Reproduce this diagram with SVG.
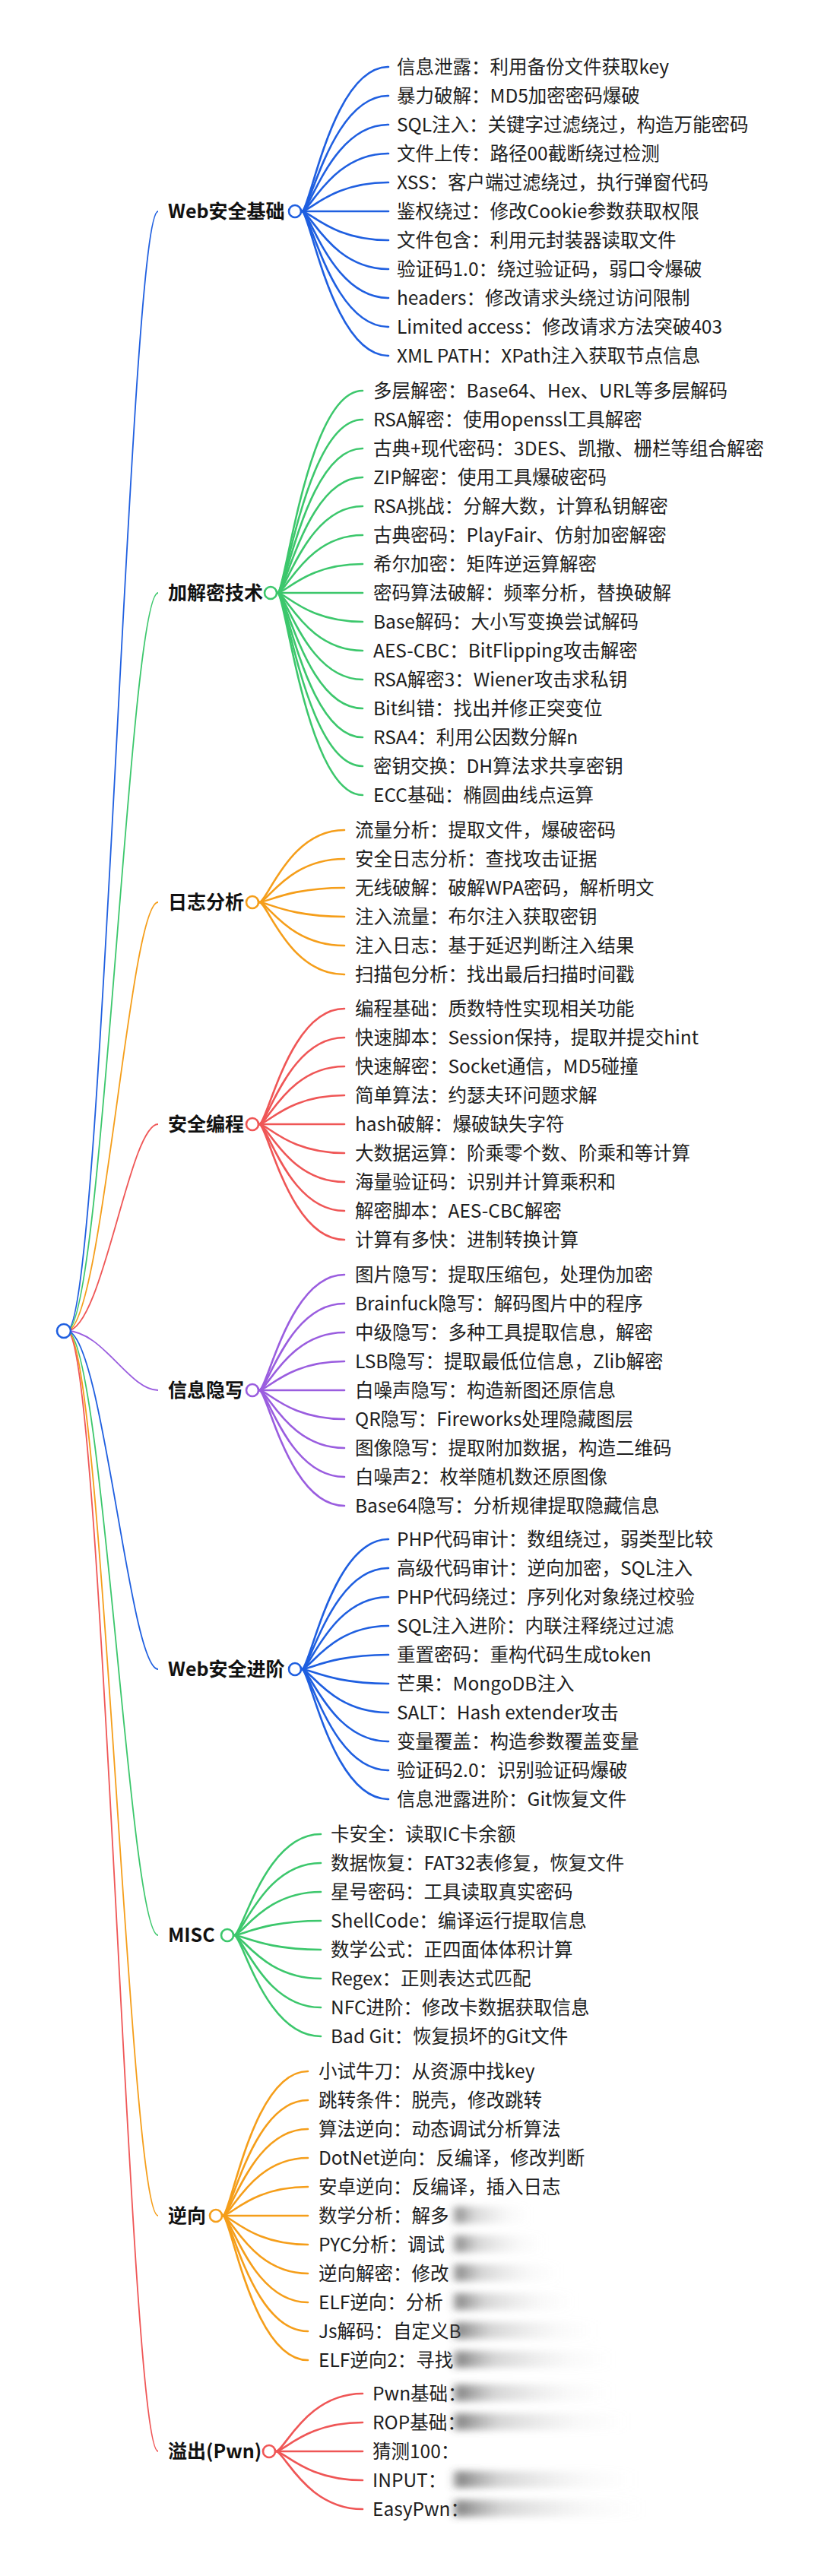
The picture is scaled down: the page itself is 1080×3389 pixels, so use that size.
<svg xmlns="http://www.w3.org/2000/svg" width="1080" height="3389" viewBox="0 0 1080 3389">
<defs>
<style>
.t{font-family:"Noto Sans CJK SC","Noto Sans",sans-serif;font-size:24.5px;fill:#1e1e1e}
.b{font-family:"Noto Sans CJK SC","Noto Sans",sans-serif;font-size:25px;font-weight:bold;fill:#111}
.l{fill:none;stroke-width:2.6;stroke-linecap:round}
.r{fill:none;stroke-width:1.8}
.blue{stroke:#1f5fe0}
.green{stroke:#3cc76c}
.orange{stroke:#f59e1a}
.red{stroke:#ef5656}
.purple{stroke:#9a5ddf}
.hub{fill:#fff;stroke-width:2.6}
</style>
<linearGradient id="smear" x1="0" y1="0" x2="1" y2="0">
<stop offset="0" stop-color="#444" stop-opacity="0.7"/>
<stop offset="0.25" stop-color="#888" stop-opacity="0.35"/>
<stop offset="0.7" stop-color="#bbb" stop-opacity="0.1"/>
<stop offset="1" stop-color="#ddd" stop-opacity="0"/>
</linearGradient>
<filter id="blur" x="-20%" y="-50%" width="140%" height="200%"><feGaussianBlur stdDeviation="6 5"/></filter>
</defs>
<rect width="1080" height="3389" fill="#fff"/>
<g id="connectors">
<g class="r">
<path class="blue" d="M88 1751C135 1751 170 278 208 278"/>
<path class="green" d="M88 1751C135 1751 170 780 208 780"/>
<path class="orange" d="M88 1751C135 1751 170 1187 208 1187"/>
<path class="red" d="M88 1751C135 1751 170 1479 208 1479"/>
<path class="purple" d="M88 1751C135 1751 170 1829 208 1829"/>
<path class="blue" d="M88 1751C135 1751 170 2196 208 2196"/>
<path class="green" d="M88 1751C135 1751 170 2546 208 2546"/>
<path class="orange" d="M88 1751C135 1751 170 2915 208 2915"/>
<path class="red" d="M88 1751C135 1751 170 3225 208 3225"/>
</g>
<g class="l blue">
<path d="M397 278C408 278 437 88 511 88"/>
<path d="M397 278C408 278 437 126 511 126"/>
<path d="M397 278C408 278 437 164 511 164"/>
<path d="M397 278C408 278 437 202 511 202"/>
<path d="M397 278C408 278 437 240 511 240"/>
<path d="M397 278C408 278 437 278 511 278"/>
<path d="M397 278C408 278 437 316 511 316"/>
<path d="M397 278C408 278 437 354 511 354"/>
<path d="M397 278C408 278 437 392 511 392"/>
<path d="M397 278C408 278 437 430 511 430"/>
<path d="M397 278C408 278 437 468 511 468"/>
</g>
<g class="l green">
<path d="M365 780C376 780 404 514 477 514"/>
<path d="M365 780C376 780 404 552 477 552"/>
<path d="M365 780C376 780 404 590 477 590"/>
<path d="M365 780C376 780 404 628 477 628"/>
<path d="M365 780C376 780 404 666 477 666"/>
<path d="M365 780C376 780 404 704 477 704"/>
<path d="M365 780C376 780 404 742 477 742"/>
<path d="M365 780C376 780 404 780 477 780"/>
<path d="M365 780C376 780 404 818 477 818"/>
<path d="M365 780C376 780 404 856 477 856"/>
<path d="M365 780C376 780 404 894 477 894"/>
<path d="M365 780C376 780 404 932 477 932"/>
<path d="M365 780C376 780 404 970 477 970"/>
<path d="M365 780C376 780 404 1008 477 1008"/>
<path d="M365 780C376 780 404 1046 477 1046"/>
</g>
<g class="l orange">
<path d="M341 1187C352 1187 380 1092 453 1092"/>
<path d="M341 1187C352 1187 380 1130 453 1130"/>
<path d="M341 1187C352 1187 380 1168 453 1168"/>
<path d="M341 1187C352 1187 380 1206 453 1206"/>
<path d="M341 1187C352 1187 380 1244 453 1244"/>
<path d="M341 1187C352 1187 380 1282 453 1282"/>
</g>
<g class="l red">
<path d="M341 1479C352 1479 380 1327 453 1327"/>
<path d="M341 1479C352 1479 380 1365 453 1365"/>
<path d="M341 1479C352 1479 380 1403 453 1403"/>
<path d="M341 1479C352 1479 380 1441 453 1441"/>
<path d="M341 1479C352 1479 380 1479 453 1479"/>
<path d="M341 1479C352 1479 380 1517 453 1517"/>
<path d="M341 1479C352 1479 380 1555 453 1555"/>
<path d="M341 1479C352 1479 380 1593 453 1593"/>
<path d="M341 1479C352 1479 380 1631 453 1631"/>
</g>
<g class="l purple">
<path d="M341 1829C352 1829 380 1677 453 1677"/>
<path d="M341 1829C352 1829 380 1715 453 1715"/>
<path d="M341 1829C352 1829 380 1753 453 1753"/>
<path d="M341 1829C352 1829 380 1791 453 1791"/>
<path d="M341 1829C352 1829 380 1829 453 1829"/>
<path d="M341 1829C352 1829 380 1867 453 1867"/>
<path d="M341 1829C352 1829 380 1905 453 1905"/>
<path d="M341 1829C352 1829 380 1943 453 1943"/>
<path d="M341 1829C352 1829 380 1981 453 1981"/>
</g>
<g class="l blue">
<path d="M397 2196C408 2196 437 2025 511 2025"/>
<path d="M397 2196C408 2196 437 2063 511 2063"/>
<path d="M397 2196C408 2196 437 2101 511 2101"/>
<path d="M397 2196C408 2196 437 2139 511 2139"/>
<path d="M397 2196C408 2196 437 2177 511 2177"/>
<path d="M397 2196C408 2196 437 2215 511 2215"/>
<path d="M397 2196C408 2196 437 2253 511 2253"/>
<path d="M397 2196C408 2196 437 2291 511 2291"/>
<path d="M397 2196C408 2196 437 2329 511 2329"/>
<path d="M397 2196C408 2196 437 2367 511 2367"/>
</g>
<g class="l green">
<path d="M308 2546C319 2546 348 2413 422 2413"/>
<path d="M308 2546C319 2546 348 2451 422 2451"/>
<path d="M308 2546C319 2546 348 2489 422 2489"/>
<path d="M308 2546C319 2546 348 2527 422 2527"/>
<path d="M308 2546C319 2546 348 2565 422 2565"/>
<path d="M308 2546C319 2546 348 2603 422 2603"/>
<path d="M308 2546C319 2546 348 2641 422 2641"/>
<path d="M308 2546C319 2546 348 2679 422 2679"/>
</g>
<g class="l orange">
<path d="M293 2915C304 2915 332 2725 405 2725"/>
<path d="M293 2915C304 2915 332 2763 405 2763"/>
<path d="M293 2915C304 2915 332 2801 405 2801"/>
<path d="M293 2915C304 2915 332 2839 405 2839"/>
<path d="M293 2915C304 2915 332 2877 405 2877"/>
<path d="M293 2915C304 2915 332 2915 405 2915"/>
<path d="M293 2915C304 2915 332 2953 405 2953"/>
<path d="M293 2915C304 2915 332 2991 405 2991"/>
<path d="M293 2915C304 2915 332 3029 405 3029"/>
<path d="M293 2915C304 2915 332 3067 405 3067"/>
<path d="M293 2915C304 2915 332 3105 405 3105"/>
</g>
<g class="l red">
<path d="M363 3225C374 3225 403 3149 477 3149"/>
<path d="M363 3225C374 3225 403 3187 477 3187"/>
<path d="M363 3225C374 3225 403 3225 477 3225"/>
<path d="M363 3225C374 3225 403 3263 477 3263"/>
<path d="M363 3225C374 3225 403 3301 477 3301"/>
</g>
</g>
<g id="root"><circle class="hub blue" cx="84" cy="1751" r="9"/></g>
<g id="b1"><text class="b" x="221" y="287">Web安全基础</text><circle class="hub blue" cx="388" cy="278" r="8"/></g>
<g id="b1-children">
<g id="b1-1"><text class="t" x="522" y="97">信息泄露：利用备份文件获取key</text></g>
<g id="b1-2"><text class="t" x="522" y="135">暴力破解：MD5加密密码爆破</text></g>
<g id="b1-3"><text class="t" x="522" y="173">SQL注入：关键字过滤绕过，构造万能密码</text></g>
<g id="b1-4"><text class="t" x="522" y="211">文件上传：路径00截断绕过检测</text></g>
<g id="b1-5"><text class="t" x="522" y="249">XSS：客户端过滤绕过，执行弹窗代码</text></g>
<g id="b1-6"><text class="t" x="522" y="287">鉴权绕过：修改Cookie参数获取权限</text></g>
<g id="b1-7"><text class="t" x="522" y="325">文件包含：利用元封装器读取文件</text></g>
<g id="b1-8"><text class="t" x="522" y="363">验证码1.0：绕过验证码，弱口令爆破</text></g>
<g id="b1-9"><text class="t" x="522" y="401">headers：修改请求头绕过访问限制</text></g>
<g id="b1-10"><text class="t" x="522" y="439">Limited access：修改请求方法突破403</text></g>
<g id="b1-11"><text class="t" x="522" y="477">XML PATH：XPath注入获取节点信息</text></g>
</g>
<g id="b2"><text class="b" x="221" y="789">加解密技术</text><circle class="hub green" cx="356" cy="780" r="8"/></g>
<g id="b2-children">
<g id="b2-1"><text class="t" x="491" y="523">多层解密：Base64、Hex、URL等多层解码</text></g>
<g id="b2-2"><text class="t" x="491" y="561">RSA解密：使用openssl工具解密</text></g>
<g id="b2-3"><text class="t" x="491" y="599">古典+现代密码：3DES、凯撒、栅栏等组合解密</text></g>
<g id="b2-4"><text class="t" x="491" y="637">ZIP解密：使用工具爆破密码</text></g>
<g id="b2-5"><text class="t" x="491" y="675">RSA挑战：分解大数，计算私钥解密</text></g>
<g id="b2-6"><text class="t" x="491" y="713">古典密码：PlayFair、仿射加密解密</text></g>
<g id="b2-7"><text class="t" x="491" y="751">希尔加密：矩阵逆运算解密</text></g>
<g id="b2-8"><text class="t" x="491" y="789">密码算法破解：频率分析，替换破解</text></g>
<g id="b2-9"><text class="t" x="491" y="827">Base解码：大小写变换尝试解码</text></g>
<g id="b2-10"><text class="t" x="491" y="865">AES-CBC：BitFlipping攻击解密</text></g>
<g id="b2-11"><text class="t" x="491" y="903">RSA解密3：Wiener攻击求私钥</text></g>
<g id="b2-12"><text class="t" x="491" y="941">Bit纠错：找出并修正突变位</text></g>
<g id="b2-13"><text class="t" x="491" y="979">RSA4：利用公因数分解n</text></g>
<g id="b2-14"><text class="t" x="491" y="1017">密钥交换：DH算法求共享密钥</text></g>
<g id="b2-15"><text class="t" x="491" y="1055">ECC基础：椭圆曲线点运算</text></g>
</g>
<g id="b3"><text class="b" x="221" y="1196">日志分析</text><circle class="hub orange" cx="332" cy="1187" r="8"/></g>
<g id="b3-children">
<g id="b3-1"><text class="t" x="467" y="1101">流量分析：提取文件，爆破密码</text></g>
<g id="b3-2"><text class="t" x="467" y="1139">安全日志分析：查找攻击证据</text></g>
<g id="b3-3"><text class="t" x="467" y="1177">无线破解：破解WPA密码，解析明文</text></g>
<g id="b3-4"><text class="t" x="467" y="1215">注入流量：布尔注入获取密钥</text></g>
<g id="b3-5"><text class="t" x="467" y="1253">注入日志：基于延迟判断注入结果</text></g>
<g id="b3-6"><text class="t" x="467" y="1291">扫描包分析：找出最后扫描时间戳</text></g>
</g>
<g id="b4"><text class="b" x="221" y="1488">安全编程</text><circle class="hub red" cx="332" cy="1479" r="8"/></g>
<g id="b4-children">
<g id="b4-1"><text class="t" x="467" y="1336">编程基础：质数特性实现相关功能</text></g>
<g id="b4-2"><text class="t" x="467" y="1374">快速脚本：Session保持，提取并提交hint</text></g>
<g id="b4-3"><text class="t" x="467" y="1412">快速解密：Socket通信，MD5碰撞</text></g>
<g id="b4-4"><text class="t" x="467" y="1450">简单算法：约瑟夫环问题求解</text></g>
<g id="b4-5"><text class="t" x="467" y="1488">hash破解：爆破缺失字符</text></g>
<g id="b4-6"><text class="t" x="467" y="1526">大数据运算：阶乘零个数、阶乘和等计算</text></g>
<g id="b4-7"><text class="t" x="467" y="1564">海量验证码：识别并计算乘积和</text></g>
<g id="b4-8"><text class="t" x="467" y="1602">解密脚本：AES-CBC解密</text></g>
<g id="b4-9"><text class="t" x="467" y="1640">计算有多快：进制转换计算</text></g>
</g>
<g id="b5"><text class="b" x="221" y="1838">信息隐写</text><circle class="hub purple" cx="332" cy="1829" r="8"/></g>
<g id="b5-children">
<g id="b5-1"><text class="t" x="467" y="1686">图片隐写：提取压缩包，处理伪加密</text></g>
<g id="b5-2"><text class="t" x="467" y="1724">Brainfuck隐写：解码图片中的程序</text></g>
<g id="b5-3"><text class="t" x="467" y="1762">中级隐写：多种工具提取信息，解密</text></g>
<g id="b5-4"><text class="t" x="467" y="1800">LSB隐写：提取最低位信息，Zlib解密</text></g>
<g id="b5-5"><text class="t" x="467" y="1838">白噪声隐写：构造新图还原信息</text></g>
<g id="b5-6"><text class="t" x="467" y="1876">QR隐写：Fireworks处理隐藏图层</text></g>
<g id="b5-7"><text class="t" x="467" y="1914">图像隐写：提取附加数据，构造二维码</text></g>
<g id="b5-8"><text class="t" x="467" y="1952">白噪声2：枚举随机数还原图像</text></g>
<g id="b5-9"><text class="t" x="467" y="1990">Base64隐写：分析规律提取隐藏信息</text></g>
</g>
<g id="b6"><text class="b" x="221" y="2205">Web安全进阶</text><circle class="hub blue" cx="388" cy="2196" r="8"/></g>
<g id="b6-children">
<g id="b6-1"><text class="t" x="522" y="2034">PHP代码审计：数组绕过，弱类型比较</text></g>
<g id="b6-2"><text class="t" x="522" y="2072">高级代码审计：逆向加密，SQL注入</text></g>
<g id="b6-3"><text class="t" x="522" y="2110">PHP代码绕过：序列化对象绕过校验</text></g>
<g id="b6-4"><text class="t" x="522" y="2148">SQL注入进阶：内联注释绕过过滤</text></g>
<g id="b6-5"><text class="t" x="522" y="2186">重置密码：重构代码生成token</text></g>
<g id="b6-6"><text class="t" x="522" y="2224">芒果：MongoDB注入</text></g>
<g id="b6-7"><text class="t" x="522" y="2262">SALT：Hash extender攻击</text></g>
<g id="b6-8"><text class="t" x="522" y="2300">变量覆盖：构造参数覆盖变量</text></g>
<g id="b6-9"><text class="t" x="522" y="2338">验证码2.0：识别验证码爆破</text></g>
<g id="b6-10"><text class="t" x="522" y="2376">信息泄露进阶：Git恢复文件</text></g>
</g>
<g id="b7"><text class="b" x="221" y="2555">MISC</text><circle class="hub green" cx="299" cy="2546" r="8"/></g>
<g id="b7-children">
<g id="b7-1"><text class="t" x="435" y="2422">卡安全：读取IC卡余额</text></g>
<g id="b7-2"><text class="t" x="435" y="2460">数据恢复：FAT32表修复，恢复文件</text></g>
<g id="b7-3"><text class="t" x="435" y="2498">星号密码：工具读取真实密码</text></g>
<g id="b7-4"><text class="t" x="435" y="2536">ShellCode：编译运行提取信息</text></g>
<g id="b7-5"><text class="t" x="435" y="2574">数学公式：正四面体体积计算</text></g>
<g id="b7-6"><text class="t" x="435" y="2612">Regex：正则表达式匹配</text></g>
<g id="b7-7"><text class="t" x="435" y="2650">NFC进阶：修改卡数据获取信息</text></g>
<g id="b7-8"><text class="t" x="435" y="2688">Bad Git：恢复损坏的Git文件</text></g>
</g>
<g id="b8"><text class="b" x="221" y="2924">逆向</text><circle class="hub orange" cx="284" cy="2915" r="8"/></g>
<g id="b8-children">
<g id="b8-1"><text class="t" x="419" y="2734">小试牛刀：从资源中找key</text></g>
<g id="b8-2"><text class="t" x="419" y="2772">跳转条件：脱壳，修改跳转</text></g>
<g id="b8-3"><text class="t" x="419" y="2810">算法逆向：动态调试分析算法</text></g>
<g id="b8-4"><text class="t" x="419" y="2848">DotNet逆向：反编译，修改判断</text></g>
<g id="b8-5"><text class="t" x="419" y="2886">安卓逆向：反编译，插入日志</text></g>
<g id="b8-6"><text class="t" x="419" y="2924">数学分析：解多</text></g>
<g id="b8-7"><text class="t" x="419" y="2962">PYC分析：调试</text></g>
<g id="b8-8"><text class="t" x="419" y="3000">逆向解密：修改</text></g>
<g id="b8-9"><text class="t" x="419" y="3038">ELF逆向：分析</text></g>
<g id="b8-10"><text class="t" x="419" y="3076">Js解码：自定义B</text></g>
<g id="b8-11"><text class="t" x="419" y="3114">ELF逆向2：寻找</text></g>
</g>
<g id="b9"><text class="b" x="221" y="3234">溢出(Pwn)</text><circle class="hub red" cx="354" cy="3225" r="8"/></g>
<g id="b9-children">
<g id="b9-1"><text class="t" x="490" y="3158">Pwn基础：</text></g>
<g id="b9-2"><text class="t" x="490" y="3196">ROP基础：</text></g>
<g id="b9-3"><text class="t" x="490" y="3234">猜测100：</text></g>
<g id="b9-4"><text class="t" x="490" y="3272">INPUT：</text></g>
<g id="b9-5"><text class="t" x="490" y="3310">EasyPwn：</text></g>
</g>
<g id="smudge" filter="url(#blur)" fill="url(#smear)">
<rect x="598" y="2903" width="100" height="22"/>
<rect x="598" y="2941" width="120" height="22"/>
<rect x="598" y="2979" width="140" height="22"/>
<rect x="598" y="3017" width="160" height="22"/>
<rect x="598" y="3055" width="190" height="22"/>
<rect x="598" y="3093" width="210" height="22"/>
<rect x="598" y="3137" width="210" height="22"/>
<rect x="598" y="3175" width="230" height="22"/>
<rect x="598" y="3251" width="240" height="22"/>
<rect x="598" y="3289" width="250" height="22"/>
</g>
</svg>
